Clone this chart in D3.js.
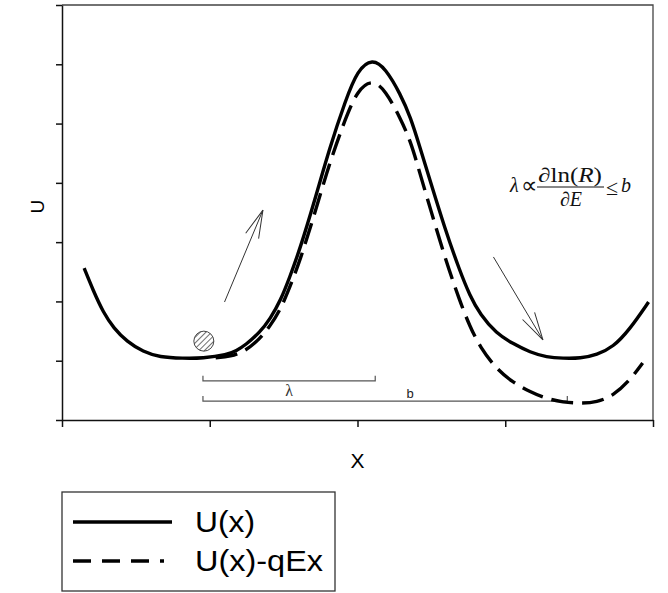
<!DOCTYPE html>
<html>
<head>
<meta charset="utf-8">
<script src="https://cdn.jsdelivr.net/npm/d3@7"></script>
<style>
  html, body { margin: 0; padding: 0; background: #fff; }
  svg { display: block; }
</style>
</head>
<body>
<div id="chart"></div>
<script>

// Data (arbitrary units)
// ===========================================

const xTicks = [0, 1, 2, 3, 4];
const yTicks = [0, 1, 2, 3, 4, 5, 6, 7];

// U(x)
const solidX = [0.15, 0.21, 0.28, 0.35, 0.44, 0.55, 0.66, 0.82, 0.95, 1.12, 1.18, 1.24, 1.34, 1.41, 1.48,
  1.54, 1.61, 1.71, 1.81, 1.92, 2.00, 2.10, 2.19, 2.29, 2.36, 2.42, 2.49, 2.59, 2.69, 2.76, 2.83,
  2.94, 3.05, 3.17, 3.28, 3.39, 3.51, 3.62, 3.73, 3.84, 3.97];
const solidU = [2.56, 2.19, 1.81, 1.55, 1.32, 1.15, 1.06, 1.04, 1.04, 1.10, 1.17, 1.26, 1.48, 1.71, 2.02,
  2.40, 2.88, 3.70, 4.58, 5.40, 5.90, 6.10, 5.93, 5.50, 5.10, 4.62, 4.05, 3.24, 2.53, 2.10, 1.78,
  1.46, 1.29, 1.14, 1.06, 1.04, 1.04, 1.10, 1.23, 1.52, 1.99];

// U(x) - qEx
const dashedX = [1.04, 1.14, 1.24, 1.34, 1.41, 1.48, 1.54, 1.61, 1.71, 1.81, 1.92, 2.00, 2.10, 2.19,
  2.29, 2.36, 2.42, 2.49, 2.59, 2.69, 2.76, 2.83, 2.94, 3.05, 3.17, 3.28, 3.39, 3.51, 3.62, 3.73, 3.84, 3.93];
const dashedU = [1.05, 1.07, 1.16, 1.37, 1.59, 1.87, 2.23, 2.68, 3.48, 4.33, 5.10, 5.56, 5.75, 5.56,
  5.09, 4.70, 4.18, 3.59, 2.75, 2.02, 1.58, 1.23, 0.86, 0.64, 0.47, 0.36, 0.30, 0.28, 0.30, 0.41, 0.66, 0.96];

const seriesNames = ["U(x)", "U(x)-qEx"];

// annotations: [x0, x1, y]
const lambdaBar = [0.954, 2.12, 0.66];
const bBar = [0.954, 3.42, 0.32];
const ball = [0.96, 1.33];
const arrowUp = [[1.10, 1.99], [1.36, 3.54]];
const arrowDown = [[2.92, 2.75], [3.255, 1.35]];


// Chart
// =====

const W = 668, H = 593;
const x = d3.scaleLinear().domain([0, 4]).range([62, 653]);
const y = d3.scaleLinear().domain([0, 7]).range([420, 5]);

const svg = d3.select('#chart').append('svg')
  .attr('width', W)
  .attr('height', H)
  .attr('viewBox', `0 0 ${W} ${H}`);

svg.append('rect').attr('width', W).attr('height', H).attr('fill', '#fff');

const defs = svg.append('defs');

defs.append('pattern')
  .attr('id', 'hatch')
  .attr('patternUnits', 'userSpaceOnUse')
  .attr('width', 4).attr('height', 4)
  .attr('patternTransform', 'rotate(45)')
  .append('line')
    .attr('x1', 0).attr('y1', 0).attr('x2', 0).attr('y2', 4)
    .attr('stroke', '#222').attr('stroke-width', 1.3);

defs.append('marker')
  .attr('id', 'openhead')
  .attr('markerUnits', 'userSpaceOnUse')
  .attr('viewBox', '-30 -10 32 20')
  .attr('refX', 0).attr('refY', 0)
  .attr('markerWidth', 32).attr('markerHeight', 20)
  .attr('orient', 'auto')
  .append('path')
    .attr('d', 'M-28,-7L0,0L-28,7')
    .attr('fill', 'none')
    .attr('stroke', '#333')
    .attr('stroke-width', 1);

// frame (top and right)
svg.append('path')
  .attr('d', `M${x(0)},${y(7)}H${x(4)}V${y(0)}`)
  .attr('fill', 'none')
  .attr('stroke', '#444')
  .attr('stroke-width', 1.3);

// axes
svg.append('g')
  .attr('transform', `translate(${x(0)},0)`)
  .call(d3.axisLeft(y).tickValues(yTicks).tickSize(6).tickSizeOuter(0).tickFormat(''))
  .call(g => g.selectAll('path, line').attr('stroke', '#111').attr('stroke-width', 1.5));

svg.append('g')
  .attr('transform', `translate(0,${y(0)})`)
  .call(d3.axisBottom(x).tickValues(xTicks).tickSize(7).tickSizeOuter(0).tickFormat(''))
  .call(g => g.selectAll('path, line').attr('stroke', '#111').attr('stroke-width', 1.5));

svg.append('text')
  .attr('x', x(2)).attr('y', 468)
  .attr('text-anchor', 'middle')
  .attr('font-family', 'Liberation Sans, Arial, sans-serif')
  .attr('font-size', 21)
  .text('X');

svg.append('text')
  .attr('transform', `translate(44,${y(3.6)}) rotate(-90)`)
  .attr('text-anchor', 'middle')
  .attr('font-family', 'Liberation Sans, Arial, sans-serif')
  .attr('font-size', 19)
  .text('U');

// brackets
function bracket(b) {
  svg.append('path')
    .attr('d', `M${x(b[0])},${y(b[2]) - 5}V${y(b[2])}H${x(b[1])}V${y(b[2]) - 5}`)
    .attr('stroke', '#555').attr('stroke-width', 1.2).attr('fill', 'none');
}
bracket(lambdaBar);
bracket(bBar);

svg.append('text')
  .attr('x', x((lambdaBar[0] + lambdaBar[1]) / 2)).attr('y', y(lambdaBar[2]) + 15)
  .attr('text-anchor', 'middle')
  .attr('font-family', 'Liberation Serif, Times New Roman, serif')
  .attr('font-size', 16)
  .attr('fill', '#333')
  .text('λ');

svg.append('text')
  .attr('x', 410).attr('y', y(bBar[2]) - 3)
  .attr('text-anchor', 'middle')
  .attr('font-family', 'Liberation Sans, Arial, sans-serif')
  .attr('font-size', 13)
  .attr('fill', '#222')
  .text('b');

// curves
const line = d3.line()
  .x(d => x(d[0]))
  .y(d => y(d[1]))
  .curve(d3.curveBasis);

svg.append('path')
  .datum(dashedX.map((v, i) => [v, dashedU[i]]))
  .attr('d', line)
  .attr('fill', 'none')
  .attr('stroke', '#000')
  .attr('stroke-width', 3.4)
  .attr('stroke-dasharray', '22,9');

svg.append('path')
  .datum(solidX.map((v, i) => [v, solidU[i]]))
  .attr('d', line)
  .attr('fill', 'none')
  .attr('stroke', '#000')
  .attr('stroke-width', 3.4);

// ball
svg.append('circle')
  .attr('cx', x(ball[0])).attr('cy', y(ball[1]))
  .attr('r', 10)
  .attr('fill', 'url(#hatch)')
  .attr('stroke', '#444')
  .attr('stroke-width', 1);

// arrows
[arrowUp, arrowDown].forEach(a => {
  svg.append('line')
    .attr('x1', x(a[0][0])).attr('y1', y(a[0][1]))
    .attr('x2', x(a[1][0])).attr('y2', y(a[1][1]))
    .attr('stroke', '#333')
    .attr('stroke-width', 1)
    .attr('marker-end', 'url(#openhead)');
});

// formula
const serif = 'Liberation Serif, Times New Roman, serif';
const f = svg.append('g').attr('font-family', serif).attr('font-size', 20).attr('fill', '#111');
f.append('text').attr('x', 510).attr('y', 192).attr('font-style', 'italic').text('λ');
f.append('text').attr('x', 521).attr('y', 193).attr('font-size', 23).text('∝');
f.append('text').attr('x', 570).attr('y', 182).attr('text-anchor', 'middle')
  .attr('textLength', 64).attr('lengthAdjust', 'spacingAndGlyphs')
  .html('∂ln(<tspan font-style="italic">R</tspan>)');
f.append('line').attr('x1', 537).attr('x2', 604).attr('y1', 187).attr('y2', 187)
  .attr('stroke', '#111').attr('stroke-width', 1);
f.append('text').attr('x', 571).attr('y', 206).attr('text-anchor', 'middle')
  .html('∂<tspan font-style="italic">E</tspan>');
f.append('text').attr('x', 606).attr('y', 195).attr('font-size', 22).text('≤');
f.append('text').attr('x', 621).attr('y', 192).attr('font-style', 'italic').text('b');

// legend
const legend = svg.append('g');
legend.append('rect')
  .attr('x', 62).attr('y', 492).attr('width', 273).attr('height', 99)
  .attr('fill', '#fff').attr('stroke', '#333').attr('stroke-width', 1.3);

seriesNames.forEach((name, i) => {
  const ly = 522 + i * 39;
  legend.append('line')
    .attr('x1', 73).attr('x2', i === 0 ? 172 : 164)
    .attr('y1', ly).attr('y2', ly)
    .attr('stroke', '#000').attr('stroke-width', 3.5)
    .attr('stroke-dasharray', i === 0 ? null : '18,11');
  legend.append('text')
    .attr('x', 195).attr('y', ly + 10)
    .attr('font-family', 'Liberation Sans, Arial, sans-serif')
    .attr('font-size', 29)
    .attr('textLength', i === 0 ? 60 : 128)
    .attr('lengthAdjust', 'spacingAndGlyphs')
    .text(name);
});

</script>
</body>
</html>
